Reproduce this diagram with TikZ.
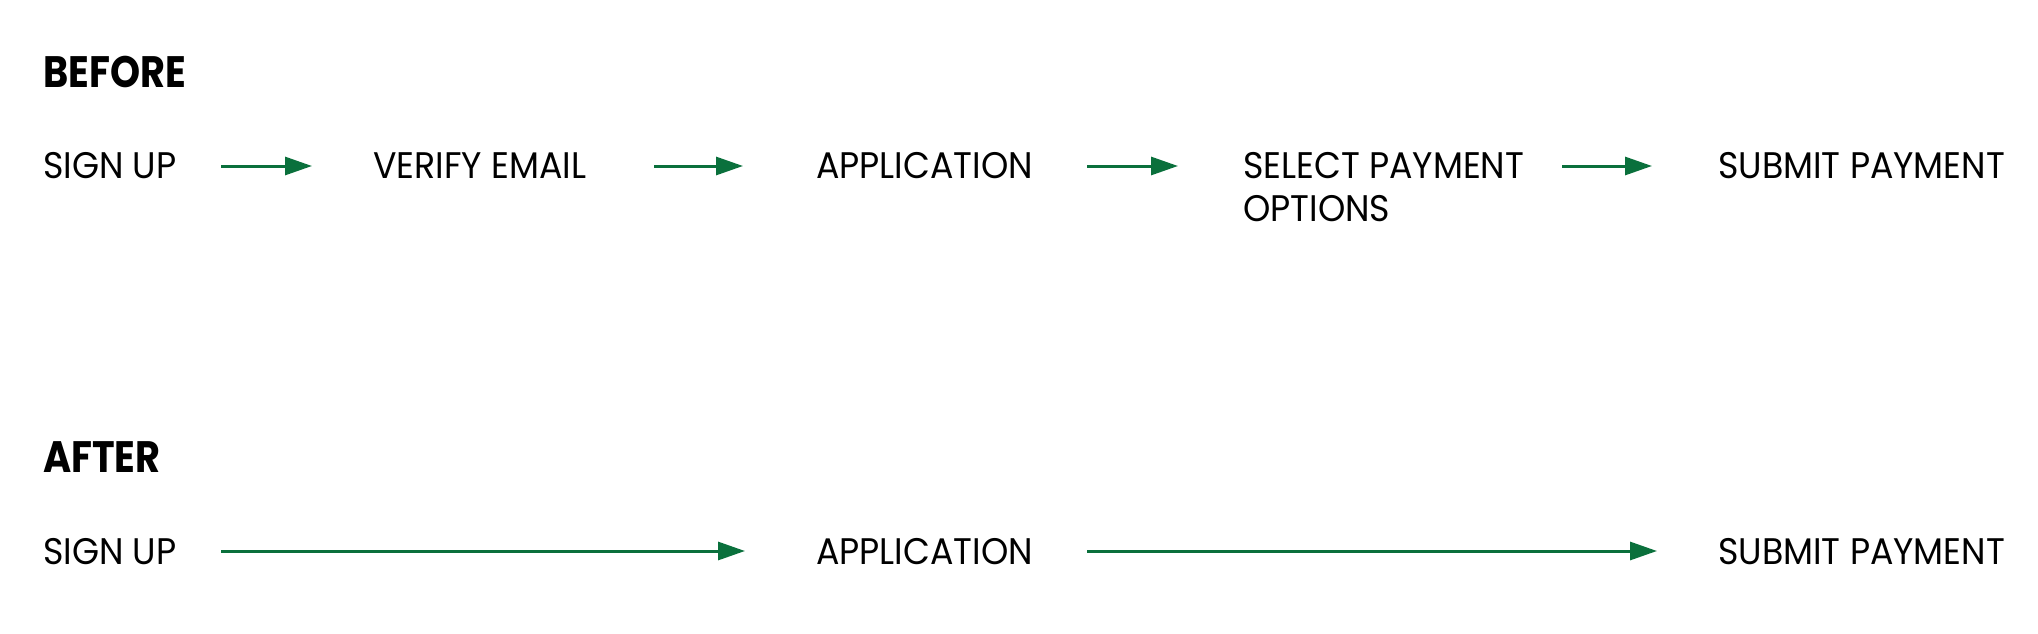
\documentclass[tikz,border=0pt]{standalone}
\usepackage{fontspec}
\setmainfont{Poppins}[FakeStretch=0.94,BoldFeatures={FakeStretch=0.87}]
\usetikzlibrary{arrows.meta}
\definecolor{flowgreen}{RGB}{10,112,60}
\begin{document}
\begin{tikzpicture}[x=1pt,y=-1pt,
  heading/.style={anchor=base west,inner sep=0pt,font=\fontsize{44}{50}\selectfont\bfseries},
  stepbox/.style={anchor=base west,inner sep=0pt,align=left,font=\fontsize{37}{43}\selectfont},
  flow/.style={draw=flowgreen,line width=3pt,-{Triangle[length=27pt,width=18pt]}}]
\useasboundingbox (0,0) rectangle (2038,634);
\node[heading] (before) at (43,88) {BEFORE};
\node[stepbox] (s1) at (43,178) {SIGN UP};
\node[stepbox] (s2) at (373,178) {VERIFY EMAIL};
\node[stepbox] (s3) at (816,178) {APPLICATION};
\node[stepbox] (s4) at (1243,221) {SELECT PAYMENT\\OPTIONS};
\node[stepbox] (s5) at (1718,178) {SUBMIT PAYMENT};
\coordinate (a1s) at (221,166); \coordinate (a1e) at (312,166);
\coordinate (a2s) at (654,166); \coordinate (a2e) at (743,166);
\coordinate (a3s) at (1087,166); \coordinate (a3e) at (1178,166);
\coordinate (a4s) at (1562,166); \coordinate (a4e) at (1652,166);
\draw[flow] (a1s) -- (a1e);
\draw[flow] (a2s) -- (a2e);
\draw[flow] (a3s) -- (a3e);
\draw[flow] (a4s) -- (a4e);
\node[heading] (after) at (43,472) {AFTER};
\node[stepbox] (t1) at (43,564) {SIGN UP};
\node[stepbox] (t2) at (816,564) {APPLICATION};
\node[stepbox] (t3) at (1718,564) {SUBMIT PAYMENT};
\coordinate (b1s) at (221,551); \coordinate (b1e) at (745,551);
\coordinate (b2s) at (1087,551); \coordinate (b2e) at (1657,551);
\draw[flow] (b1s) -- (b1e);
\draw[flow] (b2s) -- (b2e);
\end{tikzpicture}
\end{document}
